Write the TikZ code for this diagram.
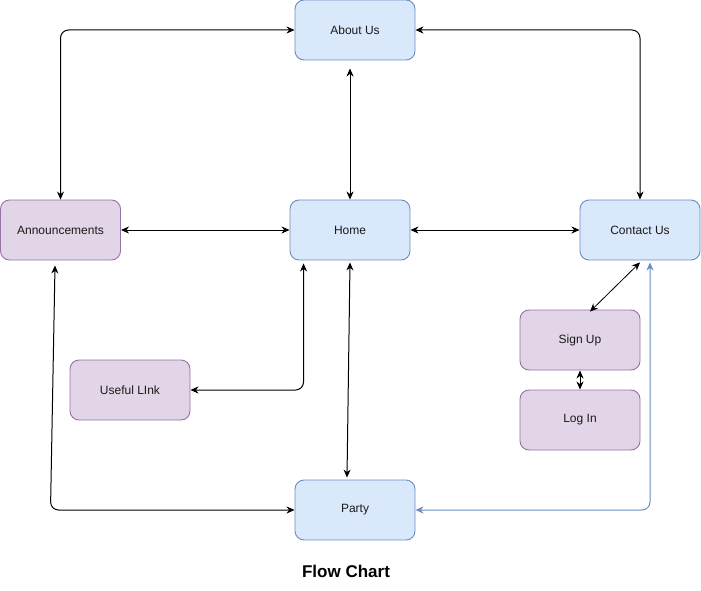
\documentclass[tikz,border=0pt]{standalone}
\usepackage{fontspec}
\setmainfont{Liberation Sans}
\usetikzlibrary{arrows.meta,calc}
\definecolor{bluefill}{HTML}{DAE8FC}
\definecolor{bluedraw}{HTML}{6C8EBF}
\definecolor{purplefill}{HTML}{E1D5E7}
\definecolor{purpledraw}{HTML}{9673A6}
\definecolor{txt}{HTML}{1A1A1A}
\begin{document}
\begin{tikzpicture}[x=1pt,y=-1pt,
  box/.style={rectangle,rounded corners=9pt,minimum width=120pt,minimum height=60pt,
    line width=0.9pt,font=\fontsize{12}{14}\selectfont,text=txt,inner sep=0pt},
  bluebox/.style={box,fill=bluefill,draw=bluedraw},
  purplebox/.style={box,fill=purplefill,draw=purpledraw},
  link/.style={line width=1pt,rounded corners=8pt,
    {Stealth[length=8pt,width=7pt,inset=2.5pt]}-{Stealth[length=8pt,width=7pt,inset=2.5pt]}},
  bluelink/.style={link,draw=bluedraw}]
\useasboundingbox (0,0) rectangle (701,591);

% pages
\node[bluebox]   (about)   at (355,30)  {About Us};
\node[purplebox] (ann)     at (60.5,230) {Announcements};
\node[bluebox]   (home)    at (350,230) {Home};
\node[bluebox]   (contact) at (640,230) {Contact Us};
\node[purplebox] (signup)  at (580,340) {Sign Up};
\node[purplebox] (login)   at (580,420) {Log In};
\node[purplebox] (useful)  at (130,390) {Useful LInk};
\node[bluebox]   (party)   at (355,510) {Party};

\node[font=\bfseries\fontsize{17}{20}\selectfont,text=black] (title) at (346,571) {Flow Chart};

% bend points
\coordinate (annbend) at (50.5,510);

% links
\draw[link] (about.west) -| (ann.north);
\draw[link] (about.east) -| (contact.north);
\draw[link] ($(about.south)+(-5,8)$) -- (home.north);
\draw[link] (ann.east) -- (home.west);
\draw[link] (home.east) -- (contact.west);
\draw[link] ($(ann.south)+(-5.5,5)$) -- (annbend) -- (party.west);
\draw[link] ($(home.south)+(0,2)$) -- ($(party.north)+(-8,-2)$);
\draw[link] ($(home.south west)+(14,3)$) |- (useful.east);
\draw[link,line width=0.8pt] ($(contact.south)+(0,2)$) -- ($(signup.north)+(10,2)$);
\draw[link] (signup.south) -- (login.north);
\draw[bluelink] ($(contact.south)+(10,2)$) |- (party.east);
\end{tikzpicture}
\end{document}
